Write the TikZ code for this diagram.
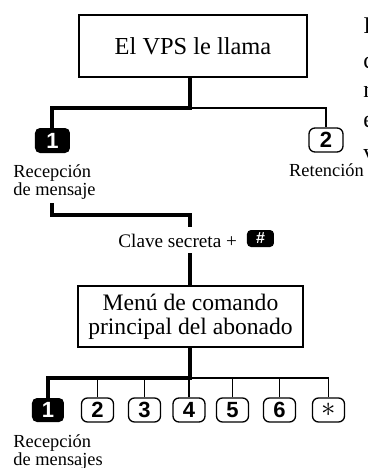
\documentclass[tikz,border=0pt]{standalone}
\usepackage{fontspec}
\setmainfont{Liberation Serif}
\newfontfamily\keyfont{Liberation Sans}

\tikzset{
  heavy/.style={line width=2pt},
  light/.style={line width=0.55pt},
  textbox/.style={draw, line width=0.65pt, inner sep=0pt, align=center},
  keyon/.style={fill=black, text=white, rounded corners=2.5pt, inner sep=0pt,
    minimum width=16pt, minimum height=12pt, font=\keyfont\bfseries\fontsize{11}{11}\selectfont},
  keyoff/.style={draw, line width=0.65pt, rounded corners=3pt, inner sep=0pt,
    minimum width=16pt, minimum height=12pt, font=\keyfont\bfseries\fontsize{11}{11}\selectfont},
  keytext/.style={inner sep=0pt, align=left, font=\fontsize{9.2}{9}\selectfont},
}

\begin{document}
\begin{tikzpicture}[x=0.5pt, y=-0.5pt]
\useasboundingbox (0,0) rectangle (368,468);

\node (vps) at (193,46) [textbox][minimum width=114pt, minimum height=31pt][font=\fontsize{12.2}{12}\selectfont]{El VPS le llama};
\node (topone) at (52.5,140.5) [keyon][minimum width=17.5pt, minimum height=12.5pt]{1};
\node (toptwo) at (326,140) [keyoff][minimum width=17pt]{2};
\node (recep) at (13,195) [keytext][anchor=base west]{Recepción\\de mensaje};
\node (reten) at (326.5,176) [keytext][anchor=base]{Retención};

\node (clave) at (118,247) [keytext][anchor=base west][font=\fontsize{9.6}{9}\selectfont]{Clave secreta +};
\node (hash) at (260.5,238.5) [keyon][minimum width=13.5pt, minimum height=8.5pt, rounded corners=2pt][font=\keyfont\bfseries\fontsize{8}{8}\selectfont]{\#};

\node (menu) at (190.5,316.5) [textbox][minimum width=112.5pt, minimum height=30.5pt][font=\fontsize{11.8}{12}\selectfont]{Menú de comando\\principal del abonado};

\node (bone) at (48,410) [keyon]{1};
\node (btwo) at (97.5,410) [keyoff]{2};
\node (bthree) at (144.5,410) [keyoff]{3};
\node (bfour) at (189,410) [keyoff]{4};
\node (bfive) at (232.5,410) [keyoff]{5};
\node (bsix) at (279.5,410) [keyoff]{6};
\node (bstar) at (328.5,410) [keyoff][font=\Large]{$\ast$};
\node (recepb) at (13,465) [keytext][anchor=base west]{Recepción\\de mensajes};

% text of the page beside the picture, cut by the edge
\node (ca) at (363,33) [inner sep=0pt, anchor=base west, font=\fontsize{12}{12}\selectfont]{I};
\node (cb) at (363,68) [inner sep=0pt, anchor=base west, font=\fontsize{12}{12}\selectfont]{c};
\node (cc) at (363,97) [inner sep=0pt, anchor=base west, font=\fontsize{12}{12}\selectfont]{r};
\node (cd) at (363,127) [inner sep=0pt, anchor=base west, font=\fontsize{12}{12}\selectfont]{e};
\node (ce) at (363,160) [inner sep=0pt, anchor=base west, font=\fontsize{12}{12}\selectfont]{v};

% connectors
\coordinate (forka) at (190.5,108);
\draw [light](forka) -| (toptwo.north);
\draw [heavy](forka |- vps.south) -- (forka) -| (topone.north);

\coordinate (lead) at (52.5,203);
\coordinate (bend) at (190.5,215);
\coordinate (gapa) at (190.5,227);
\coordinate (gapb) at (190.5,253);
\draw [heavy](lead) |- (bend) -- (gapa);
\draw [heavy](gapb) -- (gapb |- menu.north);

\coordinate (forkb) at (190.5,378);
\draw [light](forkb) -| (bstar.north);
\foreach \k in {btwo,bthree,bfour,bfive,bsix}
  \draw [light](\k.north) -- (\k.north |- forkb);
\draw [heavy](forkb |- menu.south) -- (forkb) -| (bone.north);
\end{tikzpicture}
\end{document}
